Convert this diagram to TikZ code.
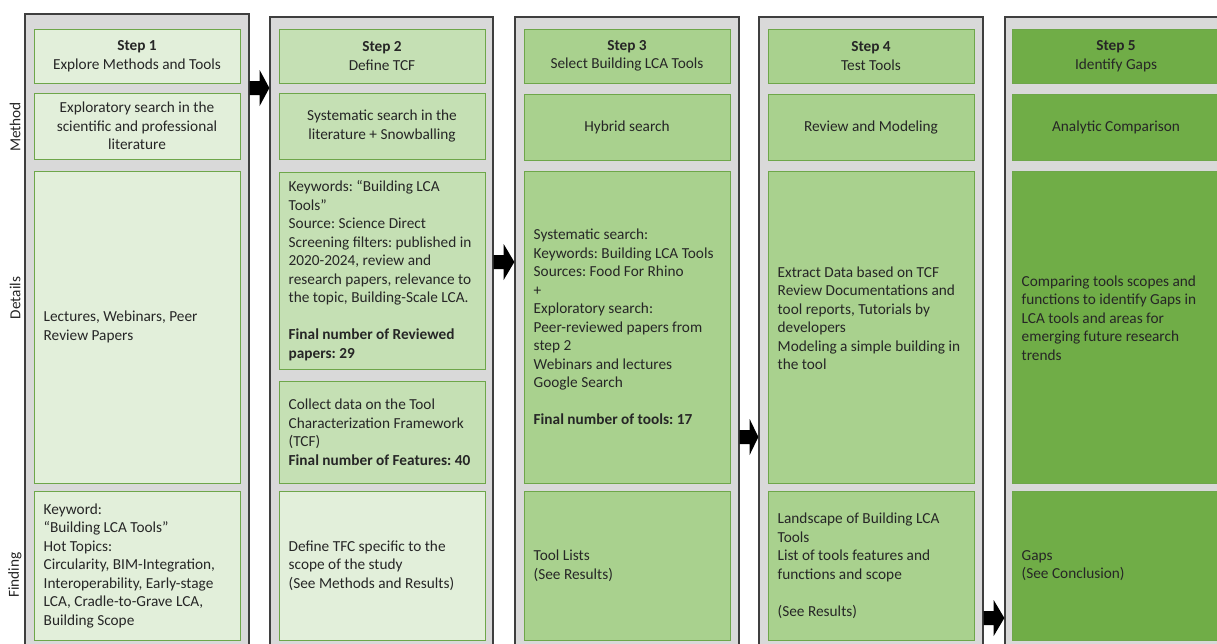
\documentclass[tikz,border=0pt]{standalone}
\usepackage{fontspec}
\setmainfont{Carlito}
\usetikzlibrary{calc}
\frenchspacing
\definecolor{panelfill}{HTML}{D9D9D9}
\definecolor{panelline}{HTML}{3F3F3F}
\definecolor{cellline}{HTML}{6EA64A}
\definecolor{greenA}{HTML}{E2EFDA}
\definecolor{greenB}{HTML}{C5E0B4}
\definecolor{greenC}{HTML}{A9D18E}
\definecolor{greenD}{HTML}{70AD47}
\definecolor{ink}{HTML}{262626}

% block arrow from one panel to the next, centred at height #3
\newcommand\flowarrow[3]{%
  \fill[flow] let \p1=(#1.east), \p2=(#2.west), \p3=(0,#3) in
    (\x1,\y3-7pt) -- (\x1+10pt,\y3-7pt) -- (\x1+10pt,\y3-18pt) -- (\x2,\y3)
    -- (\x1+10pt,\y3+18pt) -- (\x1+10pt,\y3+7pt) -- (\x1,\y3+7pt) -- cycle;}

\begin{document}
\begin{tikzpicture}[x=1pt,y=-1pt,
  every node/.style={font=\fontsize{15.3}{18.5}\selectfont, text=ink},
  panel/.style={draw=panelline, fill=panelfill, line width=1.3pt, inner sep=0pt},
  cell/.style={draw=cellline, line width=1pt, inner sep=0pt, minimum width=206pt},
  centred/.style={cell, align=center},
  txt/.style={anchor=west, align=left, inner sep=0pt},
  steprow/.style={minimum height=54pt},
  methodrow/.style={minimum height=66pt},
  detailrow/.style={minimum height=312pt},
  findrow/.style={minimum height=149pt},
  rowlabel/.style={rotate=90},
  flow/.style={fill=black},
]
\useasboundingbox (0,0) rectangle (1217,643);
\clip (0,0) rectangle (1217,643);

% grey column panels
\node[panel, minimum width=224pt, minimum height=646pt] (p1) at (137,337) {};
\node[panel, minimum width=223pt, minimum height=643pt] (p2) at (381.5,338.5) {};
\node[panel, minimum width=224pt, minimum height=643pt] (p3) at (627,338.5) {};
\node[panel, minimum width=224pt, minimum height=643pt] (p4) at (871,338.5) {};
\node[panel, minimum width=224pt, minimum height=643pt] (p5) at (1117,338.5) {};

% row labels
\node[rowlabel] (lm) at (15,127) {Method};
\node[rowlabel] (ld) at (15,298) {Details};
\node[rowlabel] (lf) at (15,575) {Finding};

% step 1
\node[centred, steprow, fill=greenA] (s1) at (137,56) {\textbf{Step 1}\\Explore Methods and Tools};
\node[centred, methodrow, fill=greenA] (m1) at (137,126) {Exploratory search in the\\scientific and professional\\literature};
\node[cell, detailrow, fill=greenA] (d1) at (137,327) {};
\node[txt] (d1t) at ($(d1.west)+(10,0)$) {Lectures, Webinars, Peer\\Review Papers};
\node[cell, findrow, fill=greenA] (f1) at (137,565.5) {};
\node[txt] (f1t) at ($(f1.west)+(10,0)$) {Keyword:\\“Building LCA Tools”\\Hot Topics:\\Circularity, BIM-Integration,\\Interoperability, Early-stage\\LCA, Cradle-to-Grave LCA,\\Building Scope};

% step 2
\node[centred, steprow, fill=greenB] (s2) at (382,56) {\textbf{Step 2}\\Define TCF};
\node[centred, methodrow, fill=greenB] (m2) at (382,126) {Systematic search in the\\literature + Snowballing};
\node[cell, minimum height=197pt, fill=greenB] (d2a) at (382,270.5) {};
\node[txt] (d2at) at ($(d2a.west)+(10,0)$) {Keywords: “Building LCA\\Tools”\\Source: Science Direct\\Screening filters: published in\\2020-2024, review and\\research papers, relevance to\\the topic, Building-Scale LCA.\\~\\\textbf{Final number of Reviewed}\\\textbf{papers: 29}};
\node[cell, minimum height=102pt, fill=greenB] (d2b) at (382,432) {};
\node[txt] (d2bt) at ($(d2b.west)+(10,0)$) {Collect data on the Tool\\Characterization Framework\\(TCF)\\\textbf{Final number of Features: 40}};
\node[cell, findrow, fill=greenA] (f2) at (382,565.5) {};
\node[txt] (f2t) at ($(f2.west)+(10,0)$) {Define TFC specific to the\\scope of the study\\(See Methods and Results)};

% step 3
\node[centred, steprow, fill=greenC] (s3) at (627,56) {\textbf{Step 3}\\Select Building LCA Tools};
\node[centred, methodrow, fill=greenC] (m3) at (627,127) {Hybrid search};
\node[cell, detailrow, fill=greenC] (d3) at (627,327) {};
\node[txt] (d3t) at ($(d3.west)+(10,0)$) {Systematic search:\\Keywords: Building LCA Tools\\Sources: Food For Rhino\\+\\Exploratory search:\\Peer-reviewed papers from\\step 2\\Webinars and lectures\\Google Search\\~\\\textbf{Final number of tools: 17}};
\node[cell, findrow, fill=greenC] (f3) at (627,565.5) {};
\node[txt] (f3t) at ($(f3.west)+(10,0)$) {Tool Lists\\(See Results)};

% step 4
\node[centred, steprow, fill=greenC] (s4) at (871,56) {\textbf{Step 4}\\Test Tools};
\node[centred, methodrow, fill=greenC] (m4) at (871,127) {Review and Modeling};
\node[cell, detailrow, fill=greenC] (d4) at (871,327) {};
\node[txt] (d4t) at ($(d4.west)+(10,-9)$) {Extract Data based on TCF\\Review Documentations and\\tool reports, Tutorials by\\developers\\Modeling a simple building in\\the tool};
\node[cell, findrow, fill=greenC] (f4) at (871,565.5) {};
\node[txt] (f4t) at ($(f4.west)+(10,0)$) {Landscape of Building LCA\\Tools\\List of tools features and\\functions and scope\\~\\(See Results)};

% step 5
\node[centred, steprow, fill=greenD, minimum width=208pt] (s5) at (1116,56) {\textbf{Step 5}\\Identify Gaps};
\node[centred, methodrow, fill=greenD, minimum width=208pt] (m5) at (1116,127) {Analytic Comparison};
\node[cell, detailrow, fill=greenD, minimum width=208pt] (d5) at (1116,327) {};
\node[txt] (d5t) at ($(d5.west)+(10,-9)$) {Comparing tools scopes and\\functions to identify Gaps in\\LCA tools and areas for\\emerging future research\\trends};
\node[cell, findrow, fill=greenD, minimum width=208pt] (f5) at (1116,565.5) {};
\node[txt] (f5t) at ($(f5.west)+(10,0)$) {Gaps\\(See Conclusion)};

% flow between the steps
\flowarrow{p1}{p2}{88}
\flowarrow{p2}{p3}{262}
\flowarrow{p3}{p4}{437}
\flowarrow{p4}{p5}{618}
\end{tikzpicture}
\end{document}
